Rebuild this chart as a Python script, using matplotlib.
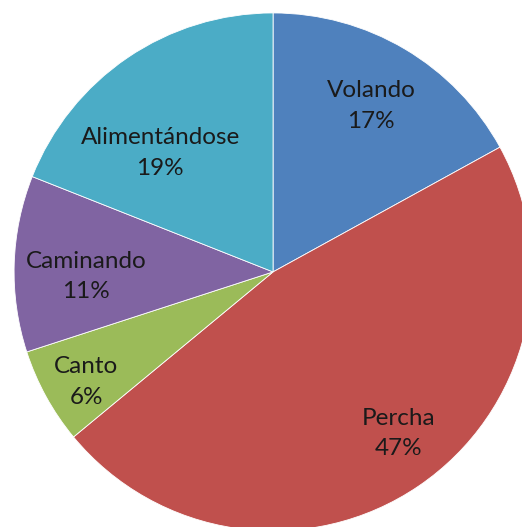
import matplotlib
matplotlib.use("Agg")
import numpy as np
import matplotlib.pyplot as plt

# activity budget (percent)
labels = ["Volando", "Percha", "Canto", "Caminando", "Alimentándose"]
values = [17, 47, 6, 11, 19]
colors = ["#4F81BD", "#C0504D", "#9BBB59", "#8064A2", "#4BACC6"]

# label placement tweaks (distance from centre, angle shift in degrees)
label_dist = [0.744, 0.790, 0.838, 0.722, 0.633]
label_shift = [0.0, 3.5, 1.7, 3.3, 9.3]

plt.rcParams['font.family'] = ['Lato', 'DejaVu Sans']

fig = plt.figure(figsize=(5.22, 5.27), dpi=100)
ax = fig.add_axes([0, 0, 1, 1])

wedges, texts = ax.pie(values, colors=colors, startangle=90, counterclock=False,
                       radius=1.0, labeldistance=0.75,
                       labels=[f"{l}\n{v}%" for l, v in zip(labels, values)],
                       wedgeprops=dict(edgecolor="white", linewidth=0.6),
                       textprops=dict(fontsize=17.5, color="#1a1a1a",
                                      ha="center", va="center", linespacing=1.55))

for w, t, d, s in zip(wedges, texts, label_dist, label_shift):
    ang = np.deg2rad((w.theta1 + w.theta2) / 2 + s)
    t.set_position((d * np.cos(ang), d * np.sin(ang)))
    t.set_horizontalalignment("center")

ax.set_xlim(-1.054, 0.961)
ax.set_ylim(-0.985, 1.050)
ax.set_aspect("equal")
ax.axis("off")

fig.savefig("out.png", dpi=100)
